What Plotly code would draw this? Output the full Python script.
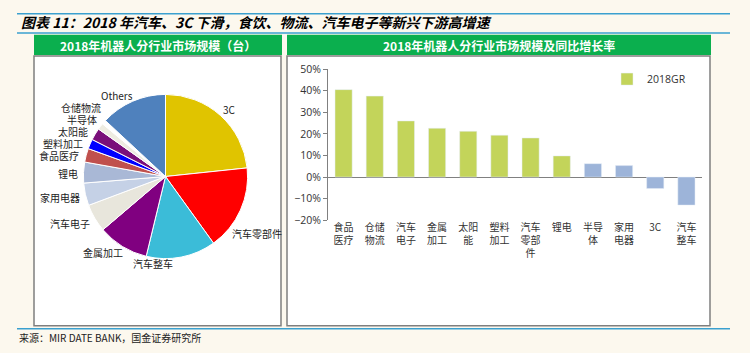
import plotly.graph_objects as go

W, H = 750, 353

# ---------------- data ----------------
pie_labels = ["3C", "汽车零部件", "汽车整车", "金属加工", "汽车电子", "家用电器", "锂电",
              "食品医疗", "塑料加工", "太阳能", "半导体", "仓储物流", "Others"]
pie_values = [36400, 26100, 21400, 15600, 8600, 6900, 6400, 4200, 3000, 3700, 2000, 1300, 20400]
pie_colors = ["#E0C400", "#FF0000", "#3BBCD8", "#800080", "#E8E6DC", "#C5D1E6", "#A9B8D6",
              "#C0504D", "#0000FF", "#7A0F7A", "#EEECE1", "#FFFFFF", "#4F81BD"]

bar_categories = ["食品<br>医疗", "仓储<br>物流", "汽车<br>电子", "金属<br>加工", "太阳<br>能", "塑料<br>加工",
                  "汽车<br>零部<br>件", "锂电", "半导<br>体", "家用<br>电器", "3C", "汽车<br>整车"]
growth_2018 = [0.405, 0.375, 0.26, 0.226, 0.212, 0.194, 0.181, 0.098, 0.062, 0.053, -0.053, -0.13]
bar_colors = ["#C3D45A"] * 8 + ["#9DB4D9"] * 4
y_ticks = [-0.2, -0.1, 0, 0.1, 0.2, 0.3, 0.4, 0.5]

# pie label positions (pixels, style only)
pie_label_pos = {
    "3C": (230, 107), "汽车零部件": (257, 236), "汽车整车": (153, 267), "金属加工": (103, 256),
    "汽车电子": (70, 225), "家用电器": (60, 198), "锂电": (68, 173), "食品医疗": (59, 155),
    "塑料加工": (63, 142), "太阳能": (73, 130), "半导体": (82, 117), "仓储物流": (81, 105),
    "Others": (117, 92),
}

def px(x):
    return x / W

def py(y):
    return 1 - y / H

CJK = "Noto Sans CJK SC"
BG = "#FCF8EE"

fig = go.Figure()

# pie
cx, cy, r = 165.5, 176.5, 85.5
fig.add_trace(go.Pie(
    labels=pie_labels, values=pie_values, sort=False, direction="clockwise", rotation=0,
    marker=dict(colors=pie_colors, line=dict(color="#FFFFFF", width=1)),
    textinfo="none", hoverinfo="label+value", showlegend=False,
    domain=dict(x=[px(cx - r), px(cx + r)], y=[py(cy + r), py(cy - r)]),
))

# bars
fig.add_trace(go.Bar(
    x=bar_categories, y=growth_2018, name="2018GR", marker=dict(color=bar_colors),
    width=0.55, showlegend=True, xaxis="x", yaxis="y",
))

shapes = []
# blue rules
for yy in (7, 27, 335):
    shapes.append(dict(type="line", xref="paper", yref="paper", x0=px(17), x1=px(730), y0=py(yy), y1=py(yy),
                       line=dict(color="#3AA0CF", width=1.5), layer="below"))
# headers and panels
for (x0, x1) in ((34, 282), (287, 711)):
    shapes.append(dict(type="rect", xref="paper", yref="paper", x0=px(x0), x1=px(x1), y0=py(50), y1=py(29),
                       fillcolor="#0BAF4E", line=dict(width=0), layer="below"))
    shapes.append(dict(type="rect", xref="paper", yref="paper", x0=px(x0), x1=px(x1 - 1), y0=py(332), y1=py(51),
                       fillcolor="#FFFFFF", line=dict(color="#7F7F7F", width=1.5), layer="below"))

annotations = []
annotations.append(dict(text="<b><i>图表 11：2018 年汽车、3C 下滑，食饮、物流、汽车电子等新兴下游高增速</i></b>",
                        xref="paper", yref="paper", x=px(19), y=py(16), xanchor="left", yanchor="middle",
                        showarrow=False, font=dict(family=CJK, size=14, color="#000000")))
annotations.append(dict(text="<b>2018年机器人分行业市场规模（台）</b>", xref="paper", yref="paper",
                        x=px(158), y=py(40), xanchor="center", yanchor="middle", showarrow=False,
                        font=dict(family=CJK, size=12, color="#FFFFFF")))
annotations.append(dict(text="<b>2018年机器人分行业市场规模及同比增长率</b>", xref="paper", yref="paper",
                        x=px(499), y=py(40), xanchor="center", yanchor="middle", showarrow=False,
                        font=dict(family=CJK, size=12, color="#FFFFFF")))
annotations.append(dict(text="来源：MIR DATE BANK，国金证券研究所", xref="paper", yref="paper",
                        x=px(17), y=py(344), xanchor="left", yanchor="middle", showarrow=False,
                        font=dict(family=CJK, size=10, color="#222222")))
for lab in pie_labels:
    lx, ly = pie_label_pos[lab]
    annotations.append(dict(text=lab, xref="paper", yref="paper", x=px(lx), y=py(ly),
                            xanchor="center", yanchor="middle", showarrow=False, borderpad=0,
                            font=dict(family=CJK, size=10, color="#222222")))

fig.update_layout(
    width=W, height=H, margin=dict(l=0, r=0, t=0, b=0),
    paper_bgcolor=BG, plot_bgcolor="rgba(0,0,0,0)",
    font=dict(family=CJK, size=10, color="#333333"),
    xaxis=dict(domain=[px(328), px(702)], showline=False, showgrid=False, ticks="",
               tickfont=dict(family=CJK, size=10, color="#333333"), fixedrange=True),
    yaxis=dict(domain=[py(222), py(64.7)], range=[-0.2, 0.5], tickvals=y_ticks, tickformat=".0%",
               showgrid=False, showline=True, linecolor="#808080", linewidth=1,
               ticks="outside", ticklen=4, tickcolor="#808080",
               zeroline=True, zerolinecolor="#808080", zerolinewidth=1,
               tickfont=dict(family="Open Sans", size=10.5, color="#333333"), fixedrange=True),
    legend=dict(x=px(607), y=py(60), xanchor="left", yanchor="top", bgcolor="rgba(0,0,0,0)",
                font=dict(family="Open Sans", size=10.5, color="#333333")),
    shapes=shapes, annotations=annotations, bargap=0.45,
)

fig.write_html("out.html")
